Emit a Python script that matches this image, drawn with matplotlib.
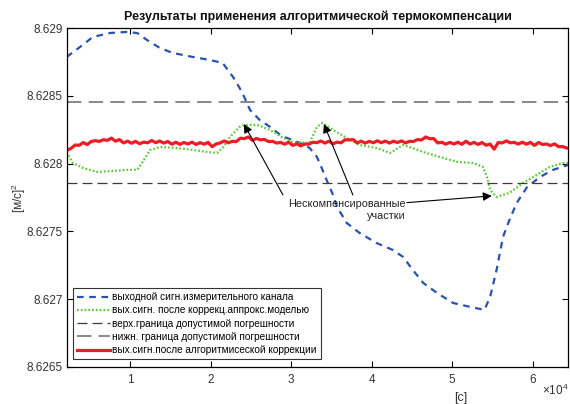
import matplotlib
matplotlib.use("Agg")
import matplotlib.pyplot as plt

plt.rcParams['font.family'] = ['Liberation Sans', 'DejaVu Sans']
plt.rcParams['mathtext.fontset'] = 'custom'
plt.rcParams['mathtext.rm'] = 'Liberation Sans'

# -------------------------
# Data
# -------------------------
# выходной сигнал измерительного канала
blue_t = [2150, 3800, 5400, 7500, 9600, 10900, 12100, 13700, 15300, 17800,
          19900, 21500, 22800, 23900, 24900, 26100, 27400, 29000, 29500, 31100,
          32300, 33200, 33800, 34400, 35100, 35700, 36900, 38500, 40600, 42600,
          43900, 45100, 46400, 48100, 50100, 52200, 54000, 54700, 55500, 56300,
          57100, 58000, 59300, 60900, 62500, 64400]
blue_y = [8.628788, 8.628862, 8.628936, 8.628965, 8.628973, 8.628965, 8.628914, 8.628855, 8.628818, 8.628788,
          8.628766, 8.628744, 8.628640, 8.628530, 8.628397, 8.628323, 8.628271, 8.628197, 8.628190, 8.628153,
          8.628116, 8.628050, 8.627968, 8.627880, 8.627784, 8.627681, 8.627562, 8.627488, 8.627414, 8.627363,
          8.627311, 8.627215, 8.627119, 8.627045, 8.626971, 8.626942, 8.626920, 8.627016, 8.627215, 8.627459,
          8.627585, 8.627710, 8.627828, 8.627902, 8.627954, 8.627991]

# после коррекции аппроксимационной моделью
green_t = [2150, 2900, 4200, 5900, 7900, 9600, 10900, 11500, 12500, 13700,
           15800, 17800, 19600, 20800, 21500, 22400, 23600, 24300, 25800, 27400,
           29000, 30200, 32300, 33200, 33900, 35200, 36900, 38500, 40600, 42300,
           43900, 44700, 46400, 48500, 50600, 52600, 53800, 54300, 54700, 55500,
           57100, 58800, 60500, 62100, 63700, 64400]
green_y = [8.628086, 8.628005, 8.627968, 8.627939, 8.627946, 8.627954, 8.627954, 8.628005, 8.628101, 8.628123,
           8.628116, 8.628101, 8.628086, 8.628079, 8.628116, 8.628197, 8.628271, 8.628286, 8.628286, 8.628249,
           8.628190, 8.628160, 8.628153, 8.628271, 8.628300, 8.628249, 8.628190, 8.628138, 8.628116, 8.628079,
           8.628138, 8.628123, 8.628086, 8.628049, 8.628013, 8.628005, 8.627976, 8.627902, 8.627806, 8.627754,
           8.627784, 8.627858, 8.627917, 8.627976, 8.628005, 8.628005]

# после алгоритмической коррекции
red_t = [2200, 2700, 3200, 3700, 4200, 4700, 5200, 5700, 6200, 6700,
         7200, 7700, 8200, 8700, 9200, 9700, 10200, 10700, 11200, 11700,
         12200, 12700, 13200, 13700, 14200, 14700, 15200, 15700, 16200, 16700,
         17200, 17700, 18200, 18700, 19200, 19700, 20200, 20700, 21200, 21700,
         22200, 22700, 23200, 23700, 24200, 24700, 25200, 25700, 26200, 26700,
         27200, 27700, 28200, 28700, 29200, 29700, 30200, 30700, 31200, 31700,
         32200, 32700, 33200, 33700, 34200, 34700, 35200, 35700, 36200, 36700,
         37200, 37700, 38200, 38700, 39200, 39700, 40200, 40700, 41200, 41700,
         42200, 42700, 43200, 43700, 44200, 44700, 45200, 45700, 46200, 46700,
         47200, 47700, 48200, 48700, 49200, 49700, 50200, 50700, 51200, 51700,
         52200, 52700, 53200, 53700, 54200, 54700, 55200, 55700, 56200, 56700,
         57200, 57700, 58200, 58700, 59200, 59700, 60200, 60700, 61200, 61700,
         62200, 62700, 63200, 63700, 64200]
red_y = [8.628100, 8.628113, 8.628138, 8.628135, 8.628156, 8.628141, 8.628164, 8.628170, 8.628164, 8.628177,
         8.628172, 8.628189, 8.628166, 8.628178, 8.628153, 8.628166, 8.628151, 8.628165, 8.628147, 8.628159,
         8.628154, 8.628171, 8.628155, 8.628167, 8.628152, 8.628164, 8.628144, 8.628158, 8.628143, 8.628156,
         8.628146, 8.628159, 8.628142, 8.628155, 8.628144, 8.628157, 8.628125, 8.628146, 8.628153, 8.628168,
         8.628154, 8.628165, 8.628163, 8.628188, 8.628185, 8.628197, 8.628172, 8.628186, 8.628176, 8.628179,
         8.628163, 8.628165, 8.628152, 8.628157, 8.628144, 8.628158, 8.628135, 8.628146, 8.628131, 8.628145,
         8.628144, 8.628158, 8.628155, 8.628167, 8.628152, 8.628166, 8.628146, 8.628159, 8.628154, 8.628177,
         8.628175, 8.628178, 8.628153, 8.628166, 8.628152, 8.628165, 8.628154, 8.628169, 8.628155, 8.628167,
         8.628152, 8.628166, 8.628156, 8.628168, 8.628153, 8.628165, 8.628164, 8.628178, 8.628175, 8.628197,
         8.628184, 8.628185, 8.628153, 8.628158, 8.628144, 8.628157, 8.628145, 8.628158, 8.628143, 8.628166,
         8.628145, 8.628157, 8.628142, 8.628156, 8.628136, 8.628145, 8.628107, 8.628156, 8.628153, 8.628168,
         8.628154, 8.628157, 8.628145, 8.628158, 8.628144, 8.628157, 8.628135, 8.628156, 8.628142, 8.628145,
         8.628134, 8.628146, 8.628125, 8.628126, 8.628116]

# границы допустимой погрешности
bound_top = 8.628458
bound_bottom = 8.627855

x_ticks = [10000, 20000, 30000, 40000, 50000, 60000]
x_ticklabels = ["1", "2", "3", "4", "5", "6"]
y_ticks = [8.6265, 8.627, 8.6275, 8.628, 8.6285, 8.629]
y_ticklabels = ["8.6265", "8.627", "8.6275", "8.628", "8.6285", "8.629"]

labels = ["выходной сигн.измерительного канала",
          "выx.сигн. после коррекц.аппрокс.моделью",
          "верх.граница допустимой погрешности",
          "нижн. граница допустимой погрешности",
          "вых.сигн.после алгоритмисеской коррекции"]

# annotation arrows: (tail, head)
arrows = [((28983, 8.627769), (24144, 8.628293)),
          ((37667, 8.627769), (34069, 8.628293)),
          ((44367, 8.627712), (54913, 8.627762))]

# -------------------------
# Plot
# -------------------------
fig = plt.figure(figsize=(5.7, 4.04), dpi=100)
ax = fig.add_axes([0.1170, 0.0923, 0.8800, 0.8377])

ax.plot(blue_t, blue_y, color="#2a52b0", lw=1.6, dashes=(3, 2.5), label=labels[0])
ax.plot(green_t, green_y, color="#5ec83a", lw=1.6, linestyle=(0, (0.8, 0.9)), label=labels[1])
ax.plot([2150, 64400], [bound_bottom, bound_bottom], color="#3c3c3c", lw=0.9,
        dashes=(8, 4), label=labels[2])
ax.plot([2150, 64400], [bound_top, bound_top], color="#808080", lw=1.3,
        dashes=(8, 4), label=labels[3])
ax.plot(red_t, red_y, color="#ee1c24", lw=2.3, label=labels[4])

for tail, head in arrows:
    ax.annotate("", xy=head, xytext=tail,
                arrowprops=dict(arrowstyle="-|>", color="k", lw=0.8,
                                mutation_scale=13, shrinkA=0, shrinkB=0))
ax.text(44243, 8.627658, "Нескомпенсированные\nучастки", ha="right", va="center",
        multialignment="right", fontsize=7.8, linespacing=1.35, color="#222222")

ax.set_xlim(2150, 64400)
ax.set_ylim(8.6265, 8.629)
ax.set_xticks(x_ticks)
ax.set_xticklabels(x_ticklabels)
ax.set_yticks(y_ticks)
ax.set_yticklabels(y_ticklabels)
ax.tick_params(direction="in", top=True, right=True, length=4, width=0.8,
               labelsize=8.5, labelcolor="#333333")
ax.tick_params(axis="y", pad=3)
ax.tick_params(axis="x", pad=5)
for s in ax.spines.values():
    s.set_linewidth(0.9)

ax.set_title("Результаты применения алгоритмической термокомпенсации",
             fontsize=9, fontweight="bold", pad=6, color="#111111")
ax.set_ylabel("[м/с]$^2$", fontsize=8.5, color="#333333")
ax.yaxis.set_label_coords(-0.077, 0.5)
ax.set_xlabel("[с]", fontsize=9, color="#333333")
ax.xaxis.set_label_coords(0.785, -0.075)
ax.text(1.0, -0.07, r"$\times 10^4$", transform=ax.transAxes, ha="right",
        va="center", fontsize=8.5, color="#333333")

leg = ax.legend(loc="lower left", bbox_to_anchor=(0.012, 0.022), fontsize=7.2,
                frameon=True, fancybox=False, handlelength=3.3, handletextpad=0.25,
                borderpad=0.4, labelspacing=0.33, borderaxespad=0)
leg.get_frame().set_edgecolor("k")
leg.get_frame().set_linewidth(0.8)

fig.savefig("out.png", dpi=100)
